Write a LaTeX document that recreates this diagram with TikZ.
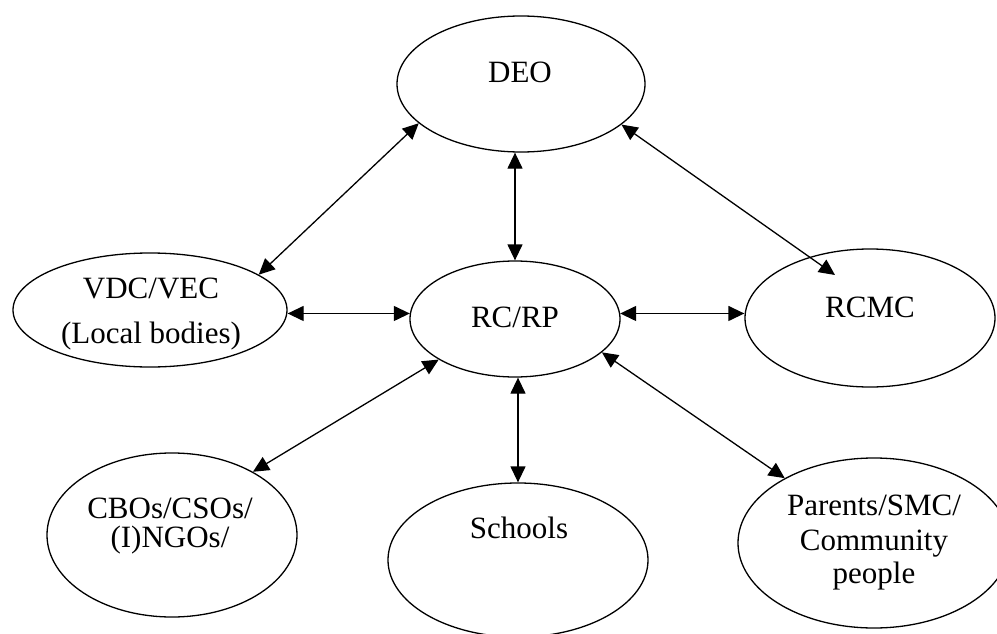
\documentclass[tikz,border=0pt]{standalone}
\usepackage{fontspec}
\setmainfont{Liberation Serif}
\usetikzlibrary{shapes.geometric,arrows.meta}
\begin{document}
\begin{tikzpicture}[x=1pt,y=-1pt,
  oval/.style={draw, ellipse, line width=1.3pt, inner sep=0pt},
  lbl/.style={anchor=base, inner sep=0pt, font=\fontsize{31}{35}\selectfont},
  arr/.style={{Triangle[length=16pt,width=15pt]}-{Triangle[length=16pt,width=15pt]}, line width=1.3pt}]
\useasboundingbox (0,0) rectangle (997,634);
\clip (0,0) rectangle (997,634);
% ellipses
\node[oval, minimum width=248pt, minimum height=136pt] (deo) at (521,84) {};
\node[oval, minimum width=274pt, minimum height=114pt] (vdc) at (150,310) {};
\node[oval, minimum width=210pt, minimum height=116pt] (rc) at (515,319) {};
\node[oval, minimum width=250pt, minimum height=138pt] (rcmc) at (870,318) {};
\node[oval, minimum width=250pt, minimum height=164pt] (cbos) at (172,535) {};
\node[oval, minimum width=260pt, minimum height=154pt] (schools) at (518,560) {};
\node[oval, minimum width=272pt, minimum height=170pt] (parents) at (874,543) {};
% labels
\node[lbl] (deo-t) at (520,83) {DEO};
\node[lbl] (rc-t) at (515,327) {RC/RP};
\node[lbl] (rcmc-t) at (870,317) {RCMC};
\node[lbl] (vdc-t1) at (151,298) {VDC/VEC};
\node[lbl] (vdc-t2) at (151,343) {(Local bodies)};
\node[lbl] (cbos-t1) at (170,518) {CBOs/CSOs/};
\node[lbl] (cbos-t2) at (170,547) {(I)NGOs/};
\node[lbl] (schools-t) at (519,538) {Schools};
\node[lbl] (parents-t1) at (874,515) {Parents/SMC/};
\node[lbl] (parents-t2) at (874,550) {Community};
\node[lbl] (parents-t3) at (874,583) {people};
% connectors
\coordinate (rcmctip) at (835,275);
\draw[arr] (deo.201.7) -- (vdc.18);
\draw[arr] (deo.south -| rc.north) -- (rc.north);
\draw[arr] (deo.338) -- (rcmctip);
\draw[arr] (rc.177) -- (rc.177 -| vdc.east);
\draw[arr] (rc.3) -- (rc.3 -| rcmc.west);
\draw[arr] (schools.north |- rc.south) -- (schools.north);
\draw[arr] (rc.208.7) -- (cbos.38.7);
\draw[arr] (rc.339.4) -- (parents.144);
\end{tikzpicture}
\end{document}
